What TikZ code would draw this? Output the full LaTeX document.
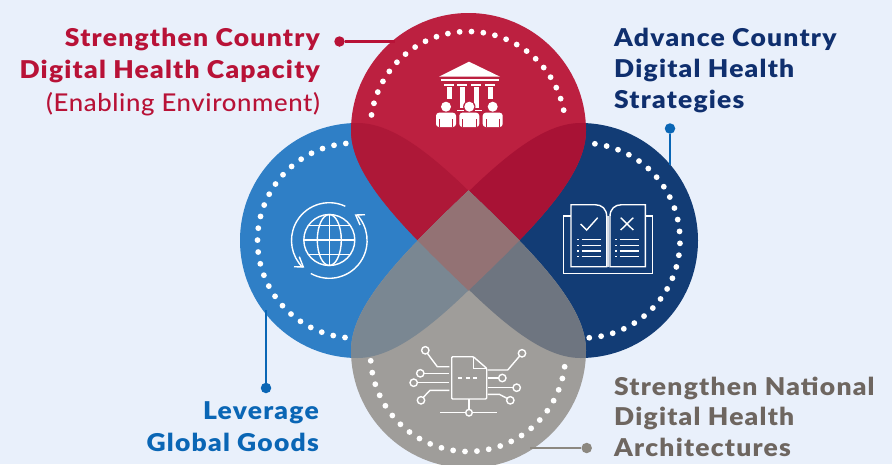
\documentclass[tikz,border=0pt]{standalone}
\usepackage{fontspec}
\setmainfont{Lato}
\newfontfamily\blackfont{Lato Black}[LetterSpace=5,FakeStretch=1.08]
\newfontfamily\mediumfont{Lato Medium}[LetterSpace=2.5,FakeStretch=1.05]
\usetikzlibrary{positioning}
\definecolor{pagebg}{HTML}{E9F0FB}
\definecolor{redfill}{HTML}{BC2040}
\definecolor{bluefill}{HTML}{2F7FC6}
\definecolor{navyfill}{HTML}{123C75}
\definecolor{greyfill}{HTML}{9F9D9A}
\definecolor{redblue}{HTML}{AE1838}
\definecolor{rednavy}{HTML}{A81235}
\definecolor{greyblue}{HTML}{7A8792}
\definecolor{greynavy}{HTML}{6E7580}
\definecolor{redgrey}{HTML}{937274}
\definecolor{redtext}{HTML}{B81237}
\definecolor{navytext}{HTML}{0F2F6E}
\definecolor{bluetext}{HTML}{0A66B5}
\definecolor{greytext}{HTML}{6E6660}
\definecolor{greylead}{HTML}{8C8880}
\definecolor{spine}{HTML}{D8DEE8}
\def\redshape{(351,130.5) arc (180:360:117.5) .. controls (586,175) and (537,225) .. (468.5,290.5) .. controls (400,225) and (351,175) .. (351,130.5) -- cycle}
\def\greyshape{(351,350.5) arc (180:0:117.5) .. controls (586,306) and (537,256) .. (468.5,190.5) .. controls (400,256) and (351,306) .. (351,350.5) -- cycle}
\def\blueshape{(357.5,123) arc (270:90:117.5) .. controls (402,358) and (452,309) .. (517.5,240.5) .. controls (452,172) and (402,123) .. (357.5,123) -- cycle}
\def\navyshape{(580.5,123) arc (-90:90:117.5) .. controls (536,358) and (486,309) .. (420.5,240.5) .. controls (486,172) and (536,123) .. (580.5,123) -- cycle}
\tikzset{
  headline/.style={font=\blackfont\fontsize{24.5}{28}\selectfont, inner sep=0pt},
  subline/.style={font=\mediumfont\fontsize{24.5}{28}\selectfont, inner sep=0pt},
  leaddot/.style={circle, inner sep=0pt, minimum size=10.5pt},
  leadline/.style={line width=2.2pt},
  icon/.style={white, line width=1.4pt},
  whitedot/.style={white, fill=white}
}
\begin{document}
\begin{tikzpicture}[x=1pt,y=-1pt]
\useasboundingbox (0,0) rectangle (892,464);
\clip (0,0) rectangle (892,464);
\fill[pagebg] (0,0) rectangle (892,464);
%SIDES
\fill[bluefill] \blueshape;
\fill[navyfill] \navyshape;
%TOP
\fill[redfill] \redshape;
\begin{scope}
\clip \redshape;
\fill[redblue] \blueshape;
\fill[rednavy] \navyshape;
\end{scope}
%BOT
\fill[greyfill] \greyshape;
\begin{scope}
\clip \greyshape;
\fill[greyblue] \blueshape;
\fill[greynavy] \navyshape;
\clip \redshape;
\fill[redgrey] (351,130) rectangle (586,350);
\end{scope}
% Dots
\foreach \n in {0,...,23} \fill[whitedot] (468,129) ++({-171.7+\n*6.98}:97.5) circle (2.9);
\foreach \n in {0,...,24} \fill[whitedot] (355,240.5) ++({-95.4-\n*7.03}:97.5) circle (2.9);
\foreach \n in {0,...,24} \fill[whitedot] (582.5,240.5) ++({-82.7+\n*7.03}:97.5) circle (2.9);
\foreach \n in {0,...,24} \fill[whitedot] (468,354) ++({-184-\n*7.02}:97.5) circle (2.9);
% Temple
\fill[white] (469,61.7) -- (500,76.7) -- (439,76.7) -- cycle;
\fill[white] (440.5,78.8) rectangle (498.5,80.6);
\foreach \x in {444,457.3,471.3,485.3} \fill[white] (\x,84) rectangle (\x+10,86);
\fill[white] (446.7,87.3) rectangle (451.7,99.3);
\fill[white] (460,87.3) rectangle (465,108);
\fill[white] (474,87.3) rectangle (478.7,108);
\fill[white] (488,87.3) rectangle (492.7,99.3);
\fill[white] (457,110) rectangle (464,111);
\fill[white] (475,110) rectangle (482,111);
\foreach \x in {446,469.3,492.7} {
\fill[redfill] (\x,106.7) circle (6.2);
\fill[white] (\x,106.7) circle (5);
\fill[white, rounded corners=3pt] (\x-10,127) -- (\x-10,112.7) -- (\x+10,112.7) -- (\x+10,127) -- cycle;
\draw[redfill, line width=0.8pt] (\x-6.8,119) -- (\x-6.8,127);
\draw[redfill, line width=0.8pt] (\x+6.8,119) -- (\x+6.8,127);
}
% Globe
\draw[icon] (329.3,240) circle (25.5);
\draw[icon] (329.3,240) ellipse (12 and 25.5);
\draw[icon] (329.3,214.5) -- (329.3,265.5);
\draw[icon] (303.8,240) -- (354.8,240);
\draw[icon] (308,225.5) -- (350.6,225.5);
\draw[icon] (308,254.5) -- (350.6,254.5);
\draw[icon] (329.3,240.5) ++(-65:37.8) arc (-65:-225:37.8);
\draw[icon] (329.3,240.5) ++(-240.7:37.8) arc (-240.7:-403:37.8);
\draw[icon] (294,266.7) -- (303.3,267) -- (299.3,256.7);
\draw[icon] (365,214.7) -- (355.7,215) -- (360,225);
% Book
\draw[icon] (570.7,216) -- (563.7,216) -- (563.7,273.3) -- (652.7,273.3) -- (652.7,216) -- (645.3,216);
\draw[icon] (606.7,266.7) -- (571,266.7) -- (571,204.7) -- (595,204.7) .. controls (602,204.7) and (606.7,209) .. (606.7,216.5) -- cycle;
\draw[icon] (610,266.7) -- (645.3,266.7) -- (645.3,204.7) -- (621.7,204.7) .. controls (614.7,204.7) and (610,209) .. (610,216.5) -- cycle;
\draw[spine, line width=2pt] (608.4,216) -- (608.4,267);
\draw[icon] (580.7,224) -- (586.7,230) -- (597.7,217.7);
\draw[icon] (620.7,217.7) -- (633.3,230);
\draw[icon] (633.3,217.7) -- (620.7,230);
\foreach \y in {239.3,245.3,251,256.7} {
\draw[icon] (577.3,\y) -- (579.3,\y);
\draw[icon] (581.7,\y) -- (601,\y);
\draw[icon] (615,\y) -- (617,\y);
\draw[icon] (619.7,\y) -- (639,\y);
}
% Document
\draw[icon, rounded corners=1pt] (451.7,356.7) -- (473.3,356.7) -- (486.7,368.3) -- (486.7,399) -- (451.7,399) -- cycle;
\draw[icon] (473.3,356.7) -- (473.3,368.3) -- (486.7,368.3);
\draw[icon, dash pattern=on 4pt off 3.5pt] (458.3,378) -- (479.3,378);
\draw[icon] (425.3,350.3) circle (3.7);
\draw[icon] (427.3,353.3) -- (437.3,366.7) -- (449.3,366.7);
\draw[icon] (420.3,373.3) circle (3.7);
\draw[icon] (424,373.3) -- (449.3,373.3);
\draw[icon] (413.7,382.7) circle (3.7);
\draw[icon] (417.4,382.7) -- (449.3,382.7);
\draw[icon] (421,400.3) circle (3.7);
\draw[icon] (423.3,397.3) -- (430,390.3) -- (449.3,390.3);
\draw[icon] (522,353.3) circle (3.7);
\draw[icon] (519.5,356.2) -- (507.7,370) -- (487.7,370);
\draw[icon] (502.3,378) circle (3.7);
\draw[icon] (487.7,378) -- (498.6,378);
\draw[icon] (516.7,387.7) circle (3.7);
\draw[icon] (487.7,387.7) -- (513,387.7);
\draw[icon] (510.3,400.3) circle (3.7);
\draw[icon] (487.7,394.3) -- (499.3,394.3) -- (507,398.3);
\draw[icon] (469,399) -- (469,409.4);
\draw[icon] (469,412.7) circle (3.3);
\draw[icon] (440,412.7) -- (465.7,412.7);
\draw[icon] (472.3,412.7) -- (497.3,412.7);
% Leaders
\node[leaddot, fill=redtext] (reddot) at (339.5,41.5) {};
\coordinate (redend) at (395,41.5);
\draw[leadline, redtext] (reddot) -- (redend);
\node[leaddot, fill=bluetext] (navydot) at (670,128.5) {};
\coordinate (navyend) at (670,165);
\draw[leadline, bluetext] (navydot) -- (navyend);
\node[leaddot, fill=bluetext] (bluedot) at (266,388) {};
\coordinate (blueend) at (266,310);
\draw[leadline, bluetext] (bluedot) -- (blueend);
\node[leaddot, fill=greylead] (greydot) at (586.7,448) {};
\coordinate (greyend) at (530,448);
\draw[leadline, greylead] (greydot) -- (greyend);
% Labels
\node[headline, redtext, anchor=base east] (redone) at (320,46) {Strengthen Country};
\node[headline, redtext, anchor=base east] (redtwo) at (320,78) {Digital Health Capacity};
\node[subline, redtext, anchor=base east] (redthree) at (320,111) {(Enabling Environment)};
\node[headline, navytext, anchor=base west] (navyone) at (614,46) {Advance Country};
\node[headline, navytext, anchor=base west] (navytwo) at (614,77) {Digital Health};
\node[headline, navytext, anchor=base west] (navythree) at (614,108) {Strategies};
\node[headline, bluetext, anchor=base east] (blueone) at (319,419) {Leverage};
\node[headline, bluetext, anchor=base east] (bluetwo) at (319,451) {Global Goods};
\node[headline, greytext, anchor=base west] (greyone) at (614,395) {Strengthen National};
\node[headline, greytext, anchor=base west] (greytwo) at (614,425) {Digital Health};
\node[headline, greytext, anchor=base west] (greythree) at (614,456) {Architectures};
\end{tikzpicture}
\end{document}
